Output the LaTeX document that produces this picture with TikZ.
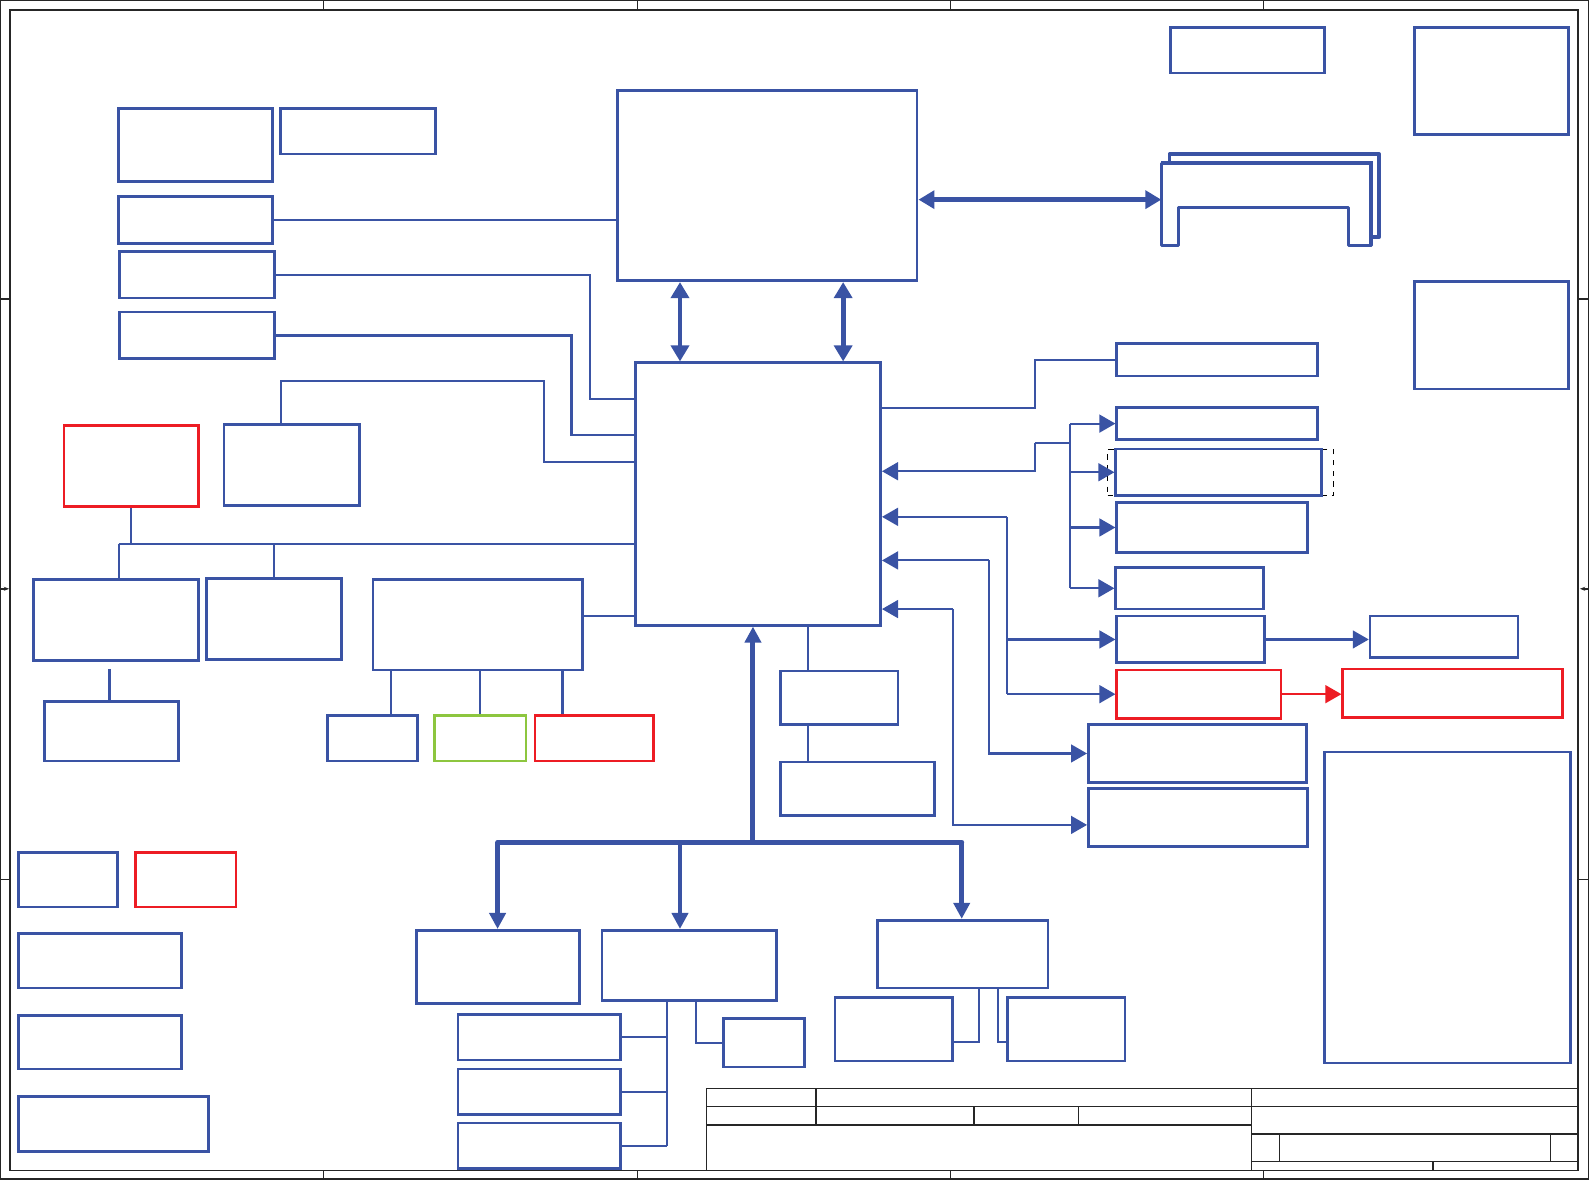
\documentclass[tikz,border=0pt]{standalone}
\usepackage{tikz}
\usetikzlibrary{arrows.meta,positioning,fit,calc}
\definecolor{schblue}{RGB}{58,83,164}
\definecolor{schred}{RGB}{237,28,36}
\definecolor{schgreen}{RGB}{141,198,63}
\tikzset{
  blk/.style={rectangle, draw=schblue, line width=1.5pt, inner sep=0pt},
  blkred/.style={blk, draw=schred},
  blkgreen/.style={blk, draw=schgreen},
  dashbox/.style={rectangle, draw=black, dashed, line width=0.6pt, inner sep=0pt},
  wire/.style={schblue, line width=1.2pt},
  arrow/.style={wire, -{Triangle[length=9pt,width=10pt]}},
  arrowred/.style={arrow, schred},
  bus/.style={schblue, line width=2.8pt},
  busarrow/.style={bus, -{Triangle[length=9pt,width=9pt]}},
  dblarrow/.style={bus, {Triangle[length=9pt,width=10pt]}-{Triangle[length=9pt,width=10pt]}},
  frameline/.style={black!85, line width=0.8pt},
  tbline/.style={black!85, line width=0.8pt},
}

\begin{document}
\begin{tikzpicture}[x=0.02cm, y=-0.02cm]
\useasboundingbox (0,0) rectangle (1568,1164);

% sheet frame
\draw[frameline] (0.5,0.5) rectangle (1567.5,1163.5);
\draw[frameline] (10,10) rectangle (1557,1155);
\foreach \x in {319,629,938,1247} {
  \draw[frameline] (\x,0) -- (\x,10);
  \draw[frameline] (\x,1155) -- (\x,1164);
}
\foreach \y in {295,868} {
  \draw[frameline] (0,\y) -- (10,\y);
  \draw[frameline] (1557,\y) -- (1568,\y);
}
\draw[frameline, -{Stealth[length=3pt]}] (0,581) -- (9,581);
\draw[frameline, -{Stealth[length=3pt]}] (1568,581) -- (1559,581);

% top left
\node[blk, fit={(117,107) (269,179)}] (a1) {};
\node[blk, fit={(277,107) (430,152)}] (a2) {};
\node[blk, fit={(117,194) (269,240)}] (a3) {};
\node[blk, fit={(118,248) (271,294)}] (a4) {};
\node[blk, fit={(118,308) (271,354)}] (a5) {};

% core blocks
\node[blk, fit={(609,89) (905,277)}] (nb) {};
\node[blk, fit={(627,358) (869,617)}] (sb) {};

% top right
\node[blk, fit={(1155,27) (1307,72)}] (t1) {};
\node[blk, fit={(1396,27) (1548,133)}] (t2) {};
\node[blk, fit={(1396,278) (1548,384)}] (t3) {};

% memory slots
\coordinate (mem) at (1146,197);
\draw[schblue, line width=2pt, line cap=round, line join=round]
  (1154,161) -- (1154,152) -- (1361,152) -- (1361,234) -- (1353,234);
\draw[schblue, line width=1.6pt, line cap=round, line join=round]
  (1146,242) -- (1146,161) -- (1353,161) -- (1353,242) -- (1331,242)
  -- (1331,205) -- (1163,205) -- (1163,242) -- cycle;
\draw[schblue, line width=2.2pt] (1146,161) -- (1353,161) -- (1353,242);

% left side
\node[blkred, fit={(63,420) (196,500)}] (r1) {};
\node[blk, fit={(221,419) (355,499)}] (bx) {};
\node[blk, fit={(33,572) (196,652)}] (c1) {};
\node[blk, fit={(204,571) (337,651)}] (c2) {};
\node[blk, fit={(44,692) (176,751)}] (c3) {};
\node[blk, fit={(368,572) (575,661)}] (d) {};
\node[blk, fit={(323,706) (412,751)}] (d1) {};
\node[blkgreen, fit={(429,706) (519,751)}] (d2) {};
\node[blkred, fit={(528,706) (645,751)}] (d3) {};

% below south block
\node[blk, fit={(770,662) (886,715)}] (e1) {};
\node[blk, fit={(770,752) (922,805)}] (e2) {};

% bus targets
\node[blk, fit={(411,918) (572,990)}] (f1) {};
\node[blk, fit={(594,918) (766,987)}] (f2) {};
\node[blk, fit={(866,908) (1034,975)}] (f3) {};
\node[blk, fit={(452,1001) (612,1046)}] (g1) {};
\node[blk, fit={(452,1055) (612,1100)}] (g2) {};
\node[blk, fit={(452,1108) (612,1153)}] (g3) {};
\node[blk, fit={(714,1005) (794,1053)}] (g4) {};
\node[blk, fit={(824,984) (940,1047)}] (h1) {};
\node[blk, fit={(994,984) (1110,1047)}] (h2) {};

% bottom left
\node[blk, fit={(18,841) (116,895)}] (l1) {};
\node[blkred, fit={(134,841) (233,895)}] (l2) {};
\node[blk, fit={(18,921) (179,975)}] (l3) {};
\node[blk, fit={(18,1002) (179,1055)}] (l4) {};
\node[blk, fit={(18,1082) (206,1136)}] (l5) {};

% right side
\node[blk, fit={(1102,339) (1300,371)}] (i1) {};
\node[blk, fit={(1102,402) (1300,434)}] (i2) {};
\node[dashbox, fit={(1093,444) (1316,489)}] (i3d) {};
\node[blk, fit={(1101,443) (1304,489)}] (i3) {};
\node[blk, fit={(1102,496) (1290,545)}] (i4) {};
\node[blk, fit={(1101,560) (1247,601)}] (i5) {};
\node[blk, fit={(1102,608) (1248,654)}] (i6) {};
\node[blkred, fit={(1102,661) (1264,709)}] (i7) {};
\node[blk, fit={(1352,608) (1498,649)}] (j1) {};
\node[blkred, fit={(1325,660) (1542,708)}] (j2) {};
\node[blk, fit={(1074,715) (1289,772)}] (k1) {};
\node[blk, fit={(1074,778) (1290,835)}] (k2) {};
\node[blk, fit={(1307,742) (1550,1049)}] (pw) {};

% core links
\coordinate (u1) at (671,0);
\coordinate (u2) at (832,0);
\draw[dblarrow] (u1 |- nb.south) -- (u1 |- sb.north);
\draw[dblarrow] (u2 |- nb.south) -- (u2 |- sb.north);
\draw[dblarrow] (nb.east |- mem) -- (mem);

% left links
\draw[wire] (a3.east) -- (a3.east -| nb.west);
\coordinate (b4) at (582,394);
\draw[wire] (a4.east) -| (b4) -- (b4 -| sb.west);
\coordinate (b5) at (564,429);
\draw[wire] (a5.east) -| (b5) -- (b5 -| sb.west);
\coordinate (b6a) at (277,376);
\coordinate (b6b) at (537,456);
\draw[wire] (b6a |- bx.north) -- (b6a) -| (b6b) -- (b6b -| sb.west);
\coordinate (lb) at (117,537);
\draw[wire] (lb) -- (lb -| sb.west);
\draw[wire] (r1.south) -- (r1.south |- lb);
\draw[wire] (lb) -- (lb |- c1.north);
\draw[wire] (c2.north) -- (c2.north |- lb);
\coordinate (c13) at (108,660);
\draw[wire] (c13) -- (c13 |- c3.north);
\coordinate (dd) at (575,608);
\draw[wire] (dd) -- (dd -| sb.west);
\foreach \x/\n in {386/d1, 474/d2, 555/d3} {
  \coordinate (dt) at (\x,661);
  \draw[wire] (dt) -- (dt |- \n.north);
}

% south links
\coordinate (se) at (797,617);
\draw[wire] (se |- sb.south) -- (se |- e1.north);
\draw[wire] (se |- e1.south) -- (se |- e2.north);

% bus
\coordinate (busl) at (491,831);
\coordinate (busm) at (743,831);
\coordinate (busc) at (671,831);
\coordinate (busr) at (949,831);
\draw[bus, line cap=round] (busl) -- (busr);
\draw[busarrow] (busm) -- (busm |- sb.south);
\draw[busarrow] (busl) -- (busl |- f1.north);
\draw[busarrow] (busc) -- (busc |- f2.north);
\draw[busarrow] (busr) -- (busr |- f3.north);

% under bus blocks
\coordinate (gv) at (658,1131);
\draw[wire] (gv |- f2.south) -- (gv);
\foreach \n in {g1,g2,g3}
  \draw[wire] (\n.east) -- (\n.east -| gv);
\coordinate (g4c) at (687,1031);
\draw[wire] (g4c |- f2.south) |- (g4.west);
\coordinate (h1c) at (966,1028);
\coordinate (h2c) at (985,1028);
\draw[wire] (h1c |- f3.south) -- (h1c) -- (h1c -| h1.east);
\draw[wire] (h2c |- f3.south) -- (h2c) -- (h2c -| h2.west);

% right links
\coordinate (i1c) at (1021,403);
\draw[wire] (sb.east |- i1c) -- (i1c) |- (i1.west);
\coordinate (jn) at (1021,437);
\coordinate (jv) at (1056,437);
\coordinate (s1) at (1021,465);
\draw[arrow] (jn) -- (s1) -- (s1 -| sb.east);
\draw[wire] (jn) -- (jv);
\draw[wire] (jv |- i2.west) -- (jv |- i5.west);
\foreach \n in {i2,i3,i4,i5}
  \draw[arrow] (jv |- \n.west) -- (\n.west);
\coordinate (k0) at (994,510);
\draw[arrow] (k0) -- (k0 -| sb.east);
\draw[wire] (k0) -- (k0 |- i7.west);
\draw[arrow] (k0 |- i6.west) -- (i6.west);
\draw[arrow] (k0 |- i7.west) -- (i7.west);
\draw[arrow] (i6.east) -- (i6.east -| j1.west);
\draw[arrowred] (i7.east) -- (i7.east -| j2.west);
\coordinate (m0) at (976,553);
\draw[arrow] (m0) -- (m0 -| sb.east);
\draw[arrow] (m0) |- (k1.west);
\coordinate (n0) at (940,601);
\coordinate (n1) at (940,814);
\draw[arrow] (n0) -- (n0 -| sb.east);
\draw[arrow] (n0) -- (n1) -- (n1 -| k2.west);

% title block
\draw[tbline] (697,1155) -- (697,1074) -- (1557,1074);
\draw[tbline] (697,1092) -- (1557,1092);
\draw[tbline] (697,1110) -- (1235,1110);
\draw[tbline] (805,1074) -- (805,1110);
\draw[tbline] (961,1092) -- (961,1110);
\draw[tbline] (1064,1092) -- (1064,1110);
\draw[tbline] (1235,1074) -- (1235,1155);
\draw[tbline] (1235,1119) -- (1557,1119);
\draw[tbline] (1235,1146) -- (1557,1146);
\draw[black!85, line width=0.4pt] (1262,1119) -- (1262,1146);
\draw[tbline] (1530,1119) -- (1530,1146);
\draw[tbline] (1414,1146) -- (1414,1155);
\end{tikzpicture}
\end{document}
